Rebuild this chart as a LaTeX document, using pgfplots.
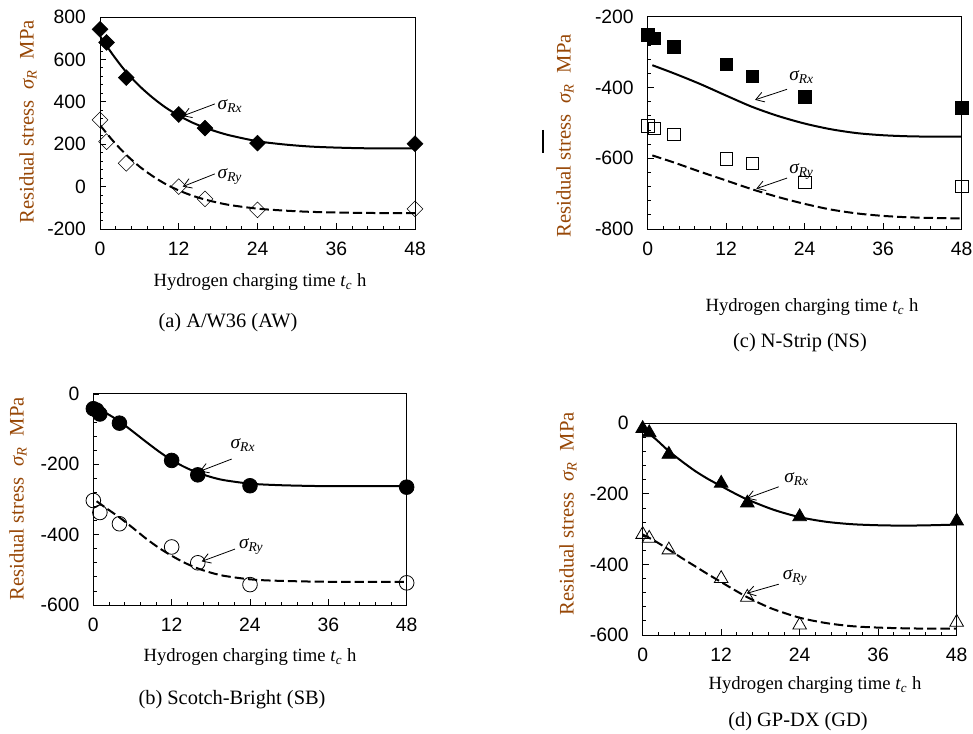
\documentclass[border=0pt]{standalone}
\usepackage{fontspec}
\setmainfont{Liberation Serif}
\newfontfamily\arial{Liberation Sans}
\usepackage{pgfplots}
\pgfplotsset{compat=1.18}
\usetikzlibrary{arrows.meta}
\definecolor{ylab}{RGB}{151,71,6}

\pgfplotsset{
  panel/.style={
    scale only axis, anchor=south west,
    xmin=0, xmax=48, xtick={0,12,24,36,48},
    minor x tick num=4, minor y tick num=4,
    tick align=inside, xtick pos=bottom, ytick pos=left,
    major tick length=4.5pt, minor tick length=2.5pt,
    every tick/.style={black, line width=0.6pt},
    axis line style={black, line width=0.7pt},
    tick label style={font=\arial\fontsize{14.5}{16}\selectfont},
    /pgf/number format/assume math mode=true,
    xticklabel style={yshift=-6pt},
    yticklabel style={xshift=-7pt},
  },
  curve/.style={black, line width=1.5pt, smooth, tension=0.5, no markers},
  dcurve/.style={black, line width=1.5pt, smooth, tension=0.5, no markers, dash pattern=on 7pt off 3pt},
  fpts/.style={only marks, black, mark options={black, fill=black, line width=0.6pt}},
  opts/.style={only marks, black, mark options={black, line width=0.6pt}},
}
\newcommand\sig[1]{{\fontsize{14.5}{14.5}\selectfont\itshape σ\textsubscript{#1}}}
\newcommand\ann[7]{%
  \draw[-{Straight Barb[length=6pt,width=7.5pt]}, line width=0.6pt] (axis cs:#1,#2) -- (axis cs:#3,#4);
  \node[anchor=west, inner sep=0.5pt] at (axis cs:#5,#6) {\sig{#7}};}
\newcommand\xlab{Hydrogen charging time \textit{t}\textsubscript{\textit{c}} h}
\newcommand\ylab{\textcolor{ylab}{Residual stress\ \ \textit{σ}\textsubscript{\textit{R}}\ \ MPa}}

\begin{document}
\begin{tikzpicture}
\useasboundingbox (0,0) rectangle (729.75pt,549.75pt);

% (a) A/W36
\begin{axis}[panel, at={(75pt,378pt)}, width=236.25pt, height=159pt,
  ymin=-200, ymax=800, ytick={-200,0,200,400,600,800}]
\addplot[curve] coordinates {(0,710)(2,620)(4,540)(6,475)(8,420)(10,373)(12,335)(14,303)(16,278)(18,257)(20,240)(24,214)(28,199)(32,189)(36,184)(40,181)(44,180)(48,180)};
\addplot[dcurve] coordinates {(0,290)(2,215)(4,150)(6,95)(8,50)(10,12)(12,-18)(14,-42)(16,-61)(18,-76)(20,-88)(24,-104)(28,-113)(32,-119)(36,-122)(40,-124)(44,-125)(48,-125)};
\addplot[fpts, mark=square*, mark size=4.2pt, mark options={rotate=45}] coordinates {(0,742)(1,680)(4,514)(12,340)(16,276)(24,205)(48,202)};
\addplot[opts, mark=square, mark size=4.2pt, mark options={rotate=45}] coordinates {(0,315)(1,212)(4,110)(12,0)(16,-58)(24,-110)(48,-105)};
\ann{17.5}{390}{12.6}{333}{17.8}{380}{Rx}
\ann{17.5}{60}{12.6}{0}{17.8}{47}{Ry}
\end{axis}

% (c) N-Strip
\begin{axis}[panel, at={(485.8pt,378pt)}, width=235.5pt, height=159.2pt,
  ymin=-800, ymax=-200, ytick={-800,-600,-400,-200}]
\addplot[curve] coordinates {(0.7,-337)(4,-360)(8,-390)(12,-423)(16,-455)(20,-481)(24,-502)(28,-518)(32,-529)(36,-535)(40,-538)(44,-539)(48,-539)};
\addplot[dcurve] coordinates {(0.7,-592)(4,-612)(8,-638)(12,-663)(16,-688)(20,-710)(24,-729)(28,-745)(32,-756)(36,-763)(40,-767)(44,-769)(48,-770)};
\addplot[fpts, mark=square*, mark size=4.7pt] coordinates {(0,-252)(1,-261)(4,-285)(12,-335)(16,-369)(24,-426)(48,-457)};
\addplot[opts, mark=square, mark size=4.7pt] coordinates {(0,-509)(1,-515)(4,-532)(12,-602)(16,-614)(24,-668)(48,-680)};
\ann{21.3}{-405}{16.4}{-435}{21.5}{-371}{Rx}
\ann{21.3}{-656}{16.6}{-686}{21.5}{-637}{Ry}
\end{axis}

% (b) Scotch-Bright
\begin{axis}[panel, at={(70pt,96pt)}, width=235pt, height=158.3pt,
  ymin=-600, ymax=0, ytick={-600,-400,-200,0}]
\addplot[curve] coordinates {(0,-38)(2,-55)(4,-78)(6,-106)(8,-135)(10,-163)(12,-188)(14,-208)(16,-224)(18,-236)(20,-245)(24,-255)(28,-259)(32,-261)(36,-262)(48,-262)};
\addplot[dcurve] coordinates {(0.5,-305)(2,-325)(4,-351)(6,-380)(8,-410)(10,-437)(12,-460)(14,-480)(16,-496)(18,-508)(20,-517)(24,-527)(28,-531)(36,-534)(48,-534)};
\addplot[fpts, mark=*, mark size=5.5pt] coordinates {(0,-42)(0.5,-46)(1,-57)(4,-83)(12,-189)(16,-230)(24,-261)(48,-265)};
\addplot[opts, mark=o, mark size=5.5pt] coordinates {(0,-303)(1,-337)(4,-369)(12,-435)(16,-480)(24,-542)(48,-537)};
\ann{21.2}{-185}{16.3}{-220}{20.9}{-145}{Rx}
\ann{21.7}{-441}{16.6}{-476}{22.2}{-433}{Ry}
\end{axis}

% (d) GP-DX
\begin{axis}[panel, at={(482pt,73.5pt)}, width=235.5pt, height=158.8pt,
  ymin=-600, ymax=0, ytick={-600,-400,-200,0}]
\addplot[curve] coordinates {(0,-15)(2,-45)(4,-79)(6,-108)(8,-135)(10,-158)(12,-178)(14,-198)(16,-216)(20,-245)(24,-266)(28,-279)(32,-286)(36,-289)(40,-290)(44,-289)(48,-287)};
\addplot[dcurve] coordinates {(0,-315)(2,-335)(4,-358)(6,-382)(8,-405)(10,-428)(12,-450)(14,-472)(16,-493)(18,-511)(20,-527)(24,-551)(28,-566)(32,-575)(36,-579)(40,-581)(44,-582)(48,-582)};
\addplot[fpts, mark=triangle*, mark size=5.9pt] coordinates {(0,-15)(1,-27)(4,-88)(12,-170)(16,-226)(24,-265)(48,-277)};
\addplot[opts, mark=triangle, mark size=5.9pt] coordinates {(0,-315)(1,-326)(4,-359)(12,-440)(16,-493)(24,-572)(48,-564)};
\ann{20.8}{-180}{15.9}{-213}{21.5}{-159}{Rx}
\ann{20.8}{-456}{15.9}{-482}{21.3}{-438}{Ry}
\end{axis}

% text in pixel coordinates
\begin{scope}[x=0.75pt, y=-0.75pt, shift={(0pt,549.75pt)}]
\tikzset{lab/.style={font=\fontsize{14}{16}\selectfont, inner sep=0pt},
         ylb/.style={font=\fontsize{15.5}{17}\selectfont, inner sep=0pt, rotate=90},
         capt/.style={font=\fontsize{15.3}{17}\selectfont, inner sep=0pt}}
% (a)
\node[lab] at (260,282) {\xlab};
\node[capt] at (228,323) {(a) A/W36 (AW)};
\node[ylb] at (28,122) {\ylab};
% (c)
\node[lab] at (812,307) {\xlab};
\node[capt] at (800,343) {(c) N-Strip (NS)};
\node[ylb] at (565,136) {\ylab};
\draw[line width=1.6pt] (543,130) -- (543,153);
% (b)
\node[lab] at (250,657) {\xlab};
\node[capt] at (232,700) {(b) Scotch-Bright (SB)};
\node[ylb] at (18,499) {\ylab};
% (d)
\node[lab] at (815,685) {\xlab};
\node[capt] at (798,722) {(d) GP-DX (GD)};
\node[ylb] at (568,514) {\ylab};
\end{scope}
\end{tikzpicture}
\end{document}
